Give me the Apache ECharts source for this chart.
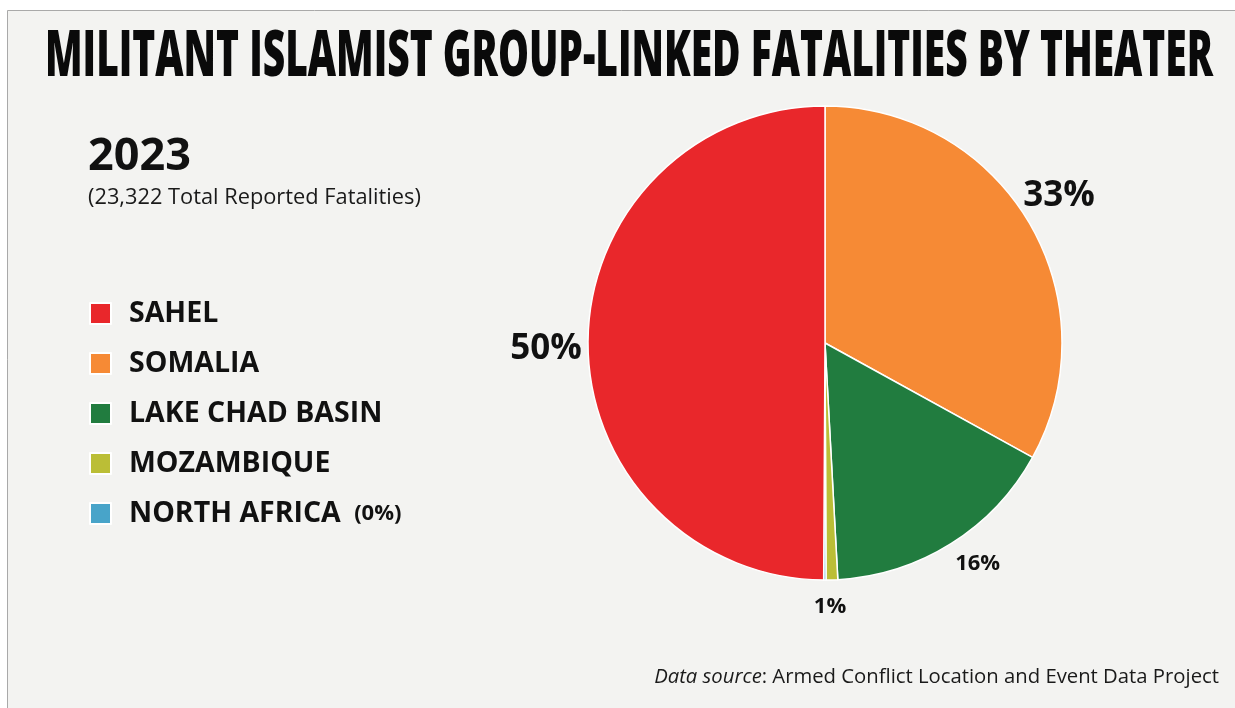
<!DOCTYPE html>
<html>
<head>
<meta charset="utf-8">
<script src="https://cdn.jsdelivr.net/npm/echarts@6/dist/echarts.min.js"></script>
<style>
  html, body { margin: 0; padding: 0; background: #ffffff; }
  #chart { width: 1235px; height: 708px; }
</style>
</head>
<body>
<div id="chart"></div>
<script>
// 2023 militant Islamist group-linked fatalities, by theater (ACLED)
const year = '2023';
const theaters = ['SOMALIA', 'LAKE CHAD BASIN', 'MOZAMBIQUE', 'NORTH AFRICA', 'SAHEL'];
const fatalities = [7700, 3760, 185, 37, 11640];
const legendOrder = ['SAHEL', 'SOMALIA', 'LAKE CHAD BASIN', 'MOZAMBIQUE', 'NORTH AFRICA'];
const sliceColors = ['#f68a35', '#217c3f', '#bbbe36', '#48a4c9', '#e9272b'];

const total = fatalities.reduce((a, b) => a + b, 0);
const share = v => Math.round(v / total * 100);

const FONT = '"Open Sans", "Noto Sans", sans-serif';
const TITLE = 'MILITANT ISLAMIST GROUP-LINKED FATALITIES BY THEATER';
const titleFont = '800 64px "Open Sans"';

// condense the heavy title horizontally so it spans the panel width
const ctx = document.createElement('canvas').getContext('2d');
ctx.font = titleFont;
const titleScale = 1168 / ctx.measureText(TITLE).width;

// small nudges for the percentage labels around the rim
const labelNudge = {
  'SAHEL': [-5, 7],
  'SOMALIA': [-2, -8],
  'LAKE CHAD BASIN': [7, -11],
  'MOZAMBIQUE': [-3, -10]
};

const pieData = theaters.map((name, i) => ({
  name,
  value: fatalities[i],
  itemStyle: { color: sliceColors[i] }
}));

const labelData = theaters.map((name, i) => {
  const big = fatalities[i] / total > 0.25;
  return {
    name,
    value: fatalities[i],
    label: {
      show: share(fatalities[i]) > 0,
      fontSize: big ? 35 : 22,
      fontWeight: 'bold',
      offset: labelNudge[name] || [0, 0]
    }
  };
});

const chart = echarts.init(document.getElementById('chart'), null, { renderer: 'canvas' });

chart.setOption({
  backgroundColor: '#ffffff',
  animation: false,
  graphic: [
    {
      type: 'rect', z: -10, silent: true,
      shape: { x: 7.5, y: 10.5, width: 1240, height: 720 },
      style: { fill: '#f3f3f1', stroke: '#a9a9a9', lineWidth: 1 }
    },
    {
      type: 'text', silent: true,
      x: 45, y: 90, scaleX: titleScale, originX: 0, originY: 0,
      style: { text: TITLE, font: titleFont, fill: '#0a0a0a', textAlign: 'left', textVerticalAlign: 'bottom' }
    },
    {
      type: 'text', silent: true, x: 88, y: 157,
      style: { text: year, font: 'bold 45px ' + FONT, fill: '#111', textVerticalAlign: 'middle' }
    },
    {
      type: 'text', silent: true, x: 88, y: 198,
      style: { text: '(' + total.toLocaleString('en-US') + ' Total Reported Fatalities)', font: '21.8px ' + FONT, fill: '#1a1a1a', textVerticalAlign: 'middle' }
    },
    {
      type: 'text', silent: true, x: 1219, y: 677,
      style: {
        text: '{i|Data source}{n|: Armed Conflict Location and Event Data Project}',
        textAlign: 'right', textVerticalAlign: 'middle',
        rich: {
          i: { fontFamily: FONT, fontSize: 20.3, fontStyle: 'italic', fill: '#1a1a1a' },
          n: { fontFamily: FONT, fontSize: 20.3, fill: '#1a1a1a' }
        }
      }
    }
  ],
  legend: {
    orient: 'vertical',
    left: 89,
    top: 299,
    padding: 0,
    data: legendOrder,
    icon: 'rect',
    itemWidth: 21,
    itemHeight: 21,
    itemGap: 21,
    selectedMode: false,
    textStyle: {
      fontFamily: FONT, fontSize: 28.5, fontWeight: 'bold', color: '#111',
      lineHeight: 28, padding: [0, 0, 0, 13],
      rich: { p: { fontFamily: FONT, fontSize: 22, fontWeight: 'bold', color: '#111', padding: [0, 0, 0, 6] } }
    },
    formatter: name => {
      const v = fatalities[theaters.indexOf(name)];
      return name === 'NORTH AFRICA' ? name + ' {p|(' + share(v) + '%)}' : name;
    }
  },
  series: [
    {
      type: 'pie',
      center: [825, 343],
      radius: 237,
      startAngle: 90,
      clockwise: true,
      label: { show: false },
      labelLine: { show: false },
      itemStyle: { borderColor: '#ffffff', borderWidth: 1.5 },
      emphasis: { disabled: true },
      data: pieData
    },
    {
      // transparent ring that carries the percentage labels just outside the pie
      type: 'pie',
      center: [825, 343],
      radius: [250, 292],
      startAngle: 90,
      clockwise: true,
      silent: true,
      legendHoverLink: false,
      percentPrecision: 0,
      itemStyle: { color: 'rgba(0,0,0,0)', borderWidth: 0 },
      emphasis: { disabled: true },
      label: {
        position: 'inside',
        formatter: '{d}%',
        fontFamily: FONT,
        color: '#111'
      },
      labelLine: { show: false },
      data: labelData
    }
  ]
});
</script>
</body>
</html>
